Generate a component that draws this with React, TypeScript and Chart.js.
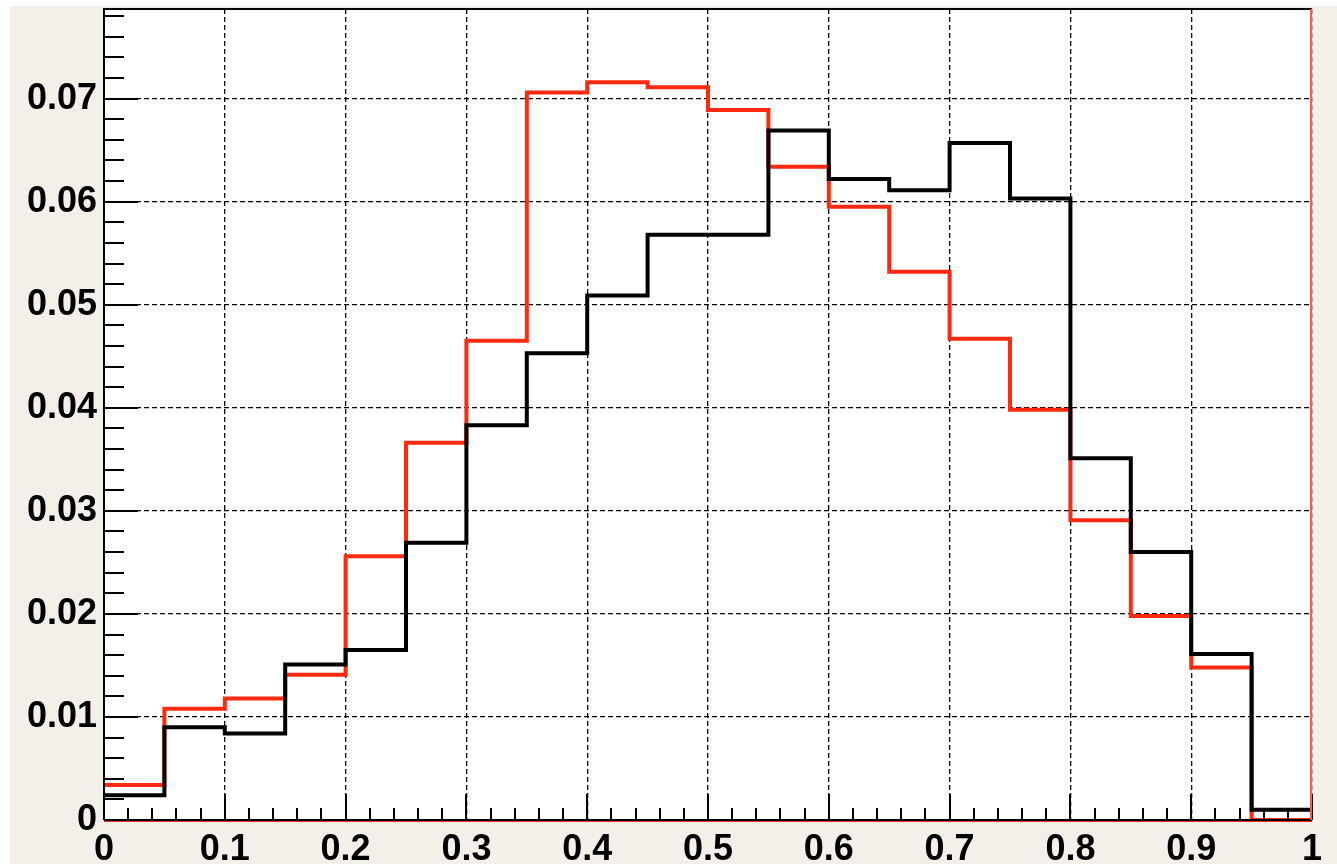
import React, { useEffect, useRef } from "react";
import { Chart, registerables } from "chart.js";

Chart.register(...registerables);

// ---- data ----
const binEdges = [0, 0.05, 0.1, 0.15, 0.2, 0.25, 0.3, 0.35, 0.4, 0.45, 0.5, 0.55, 0.6, 0.65, 0.7, 0.75, 0.8, 0.85, 0.9, 0.95];
const xMax = 1;
const blackValues = [0.0024, 0.0090, 0.0084, 0.0151, 0.0165, 0.0269, 0.0383, 0.0453, 0.0509, 0.0568, 0.0568, 0.0669, 0.0622, 0.0611, 0.0657, 0.0603, 0.0351, 0.0260, 0.0161, 0.0010];
const redValues = [0.0034, 0.0108, 0.0118, 0.0141, 0.0256, 0.0366, 0.0465, 0.0706, 0.0716, 0.0711, 0.0689, 0.0634, 0.0595, 0.0532, 0.0467, 0.0398, 0.0291, 0.0198, 0.0148, 0.0];
const xTickValues = [0, 0.1, 0.2, 0.3, 0.4, 0.5, 0.6, 0.7, 0.8, 0.9, 1];
const xTickLabels = ["0", "0.1", "0.2", "0.3", "0.4", "0.5", "0.6", "0.7", "0.8", "0.9", "1"];
const yTickValues = [0, 0.01, 0.02, 0.03, 0.04, 0.05, 0.06, 0.07];
const yTickLabels = ["0", "0.01", "0.02", "0.03", "0.04", "0.05", "0.06", "0.07"];
const yMax = 0.0787;

const W = 1337;
const H = 866;

function histPoints(vals: number[]) {
  const pts = binEdges.map((e, i) => ({ x: e, y: vals[i] }));
  pts.push({ x: xMax, y: vals[vals.length - 1] });
  return pts;
}

const backgroundPlugin = {
  id: "bgPlugin",
  beforeDraw(chart: any) {
    const { ctx, chartArea } = chart;
    ctx.save();
    ctx.fillStyle = "#ffffff";
    ctx.fillRect(0, 0, W, H);
    ctx.fillStyle = "#f3f0ea";
    ctx.fillRect(10, 6, W - 10, H - 8);
    ctx.fillStyle = "#ffffff";
    ctx.fillRect(chartArea.left, chartArea.top, chartArea.right - chartArea.left, chartArea.bottom - chartArea.top);
    ctx.restore();
  },
};

const frameTicksPlugin = {
  id: "frameTicks",
  afterDraw(chart: any) {
    const { ctx, chartArea } = chart;
    const { left, right, top, bottom } = chartArea;
    const xs = chart.scales.x;
    const ys = chart.scales.y;
    ctx.save();
    ctx.strokeStyle = "#000";
    ctx.lineWidth = 2;
    ctx.beginPath();
    // y ticks (inside)
    for (let k = 0; k <= 39; k++) {
      const v = k * 0.002;
      if (v > yMax) break;
      const py = Math.round(ys.getPixelForValue(v));
      const major = k % 5 === 0;
      ctx.moveTo(left, py);
      ctx.lineTo(left + (major ? 34 : 20), py);
    }
    // x ticks (inside)
    for (let k = 0; k <= 50; k++) {
      const v = k * 0.02;
      const px = Math.round(xs.getPixelForValue(v));
      const major = k % 5 === 0;
      ctx.moveTo(px, bottom);
      ctx.lineTo(px, bottom - (major ? 26 : 12));
    }
    ctx.stroke();
    // frame
    ctx.beginPath();
    ctx.moveTo(left, bottom);
    ctx.lineTo(left, top);
    ctx.lineTo(right, top);
    ctx.moveTo(left, bottom);
    ctx.lineTo(right, bottom);
    ctx.stroke();
    ctx.strokeStyle = "#ff5a4a";
    ctx.lineWidth = 2;
    ctx.beginPath();
    ctx.moveTo(right - 1, top);
    ctx.lineTo(right - 1, bottom);
    ctx.stroke();
    ctx.strokeStyle = "#ff2a10";
    ctx.lineWidth = 1;
    ctx.beginPath();
    ctx.moveTo(left, bottom + 1.5);
    ctx.lineTo(right, bottom + 1.5);
    ctx.stroke();
    ctx.restore();
  },
};

export default function App() {
  const ref = useRef<HTMLCanvasElement | null>(null);

  useEffect(() => {
    if (!ref.current) return;
    const font = { family: '"Liberation Sans", Arial, Helvetica, sans-serif', size: 36, weight: "bold" as const };
    const chart = new Chart(ref.current, {
      type: "line",
      data: {
        datasets: [
          {
            label: "black",
            data: histPoints(blackValues),
            borderColor: "#000000",
            borderWidth: 4,
            stepped: true,
            pointRadius: 0,
            fill: false,
          },
          {
            label: "red",
            data: histPoints(redValues),
            borderColor: "#ff2a10",
            borderWidth: 4,
            stepped: true,
            pointRadius: 0,
            fill: false,
          },
        ],
      },
      options: {
        responsive: false,
        animation: false,
        devicePixelRatio: 1,
        layout: { padding: { top: 9, right: 25, left: 0, bottom: 0 } },
        plugins: { legend: { display: false }, tooltip: { enabled: false } },
        scales: {
          x: {
            type: "linear",
            min: 0,
            max: xMax,
            afterBuildTicks: (s: any) => {
              s.ticks = xTickValues.map((v) => ({ value: v }));
            },
            afterFit: (s: any) => {
              s.height = 46;
              s.paddingLeft = 0;
              s.paddingRight = 0;
            },
            ticks: {
              font,
              color: "#000",
              padding: 8,
              maxRotation: 0,
              autoSkip: false,
              callback: (_v: any, i: number) => xTickLabels[i],
            },
            grid: { color: "#000", lineWidth: 1.3, drawTicks: false },
            border: { display: false, dash: [5, 3] },
          },
          y: {
            type: "linear",
            min: 0,
            max: yMax,
            afterBuildTicks: (s: any) => {
              s.ticks = yTickValues.map((v) => ({ value: v }));
            },
            afterFit: (s: any) => {
              s.width = 104;
              s.paddingTop = 0;
              s.paddingBottom = 0;
            },
            ticks: {
              font,
              color: "#000",
              padding: 7,
              autoSkip: false,
              callback: (_v: any, i: number) => yTickLabels[i],
            },
            grid: { color: "#000", lineWidth: 1.3, drawTicks: false },
            border: { display: false, dash: [5, 3] },
          },
        },
      },
      plugins: [backgroundPlugin, frameTicksPlugin],
    });
    return () => chart.destroy();
  }, []);

  return (
    <div style={{ position: "fixed", left: 0, top: 0, width: W, height: H }}>
      <canvas ref={ref} width={W} height={H} style={{ display: "block", width: W, height: H }} />
    </div>
  );
}
